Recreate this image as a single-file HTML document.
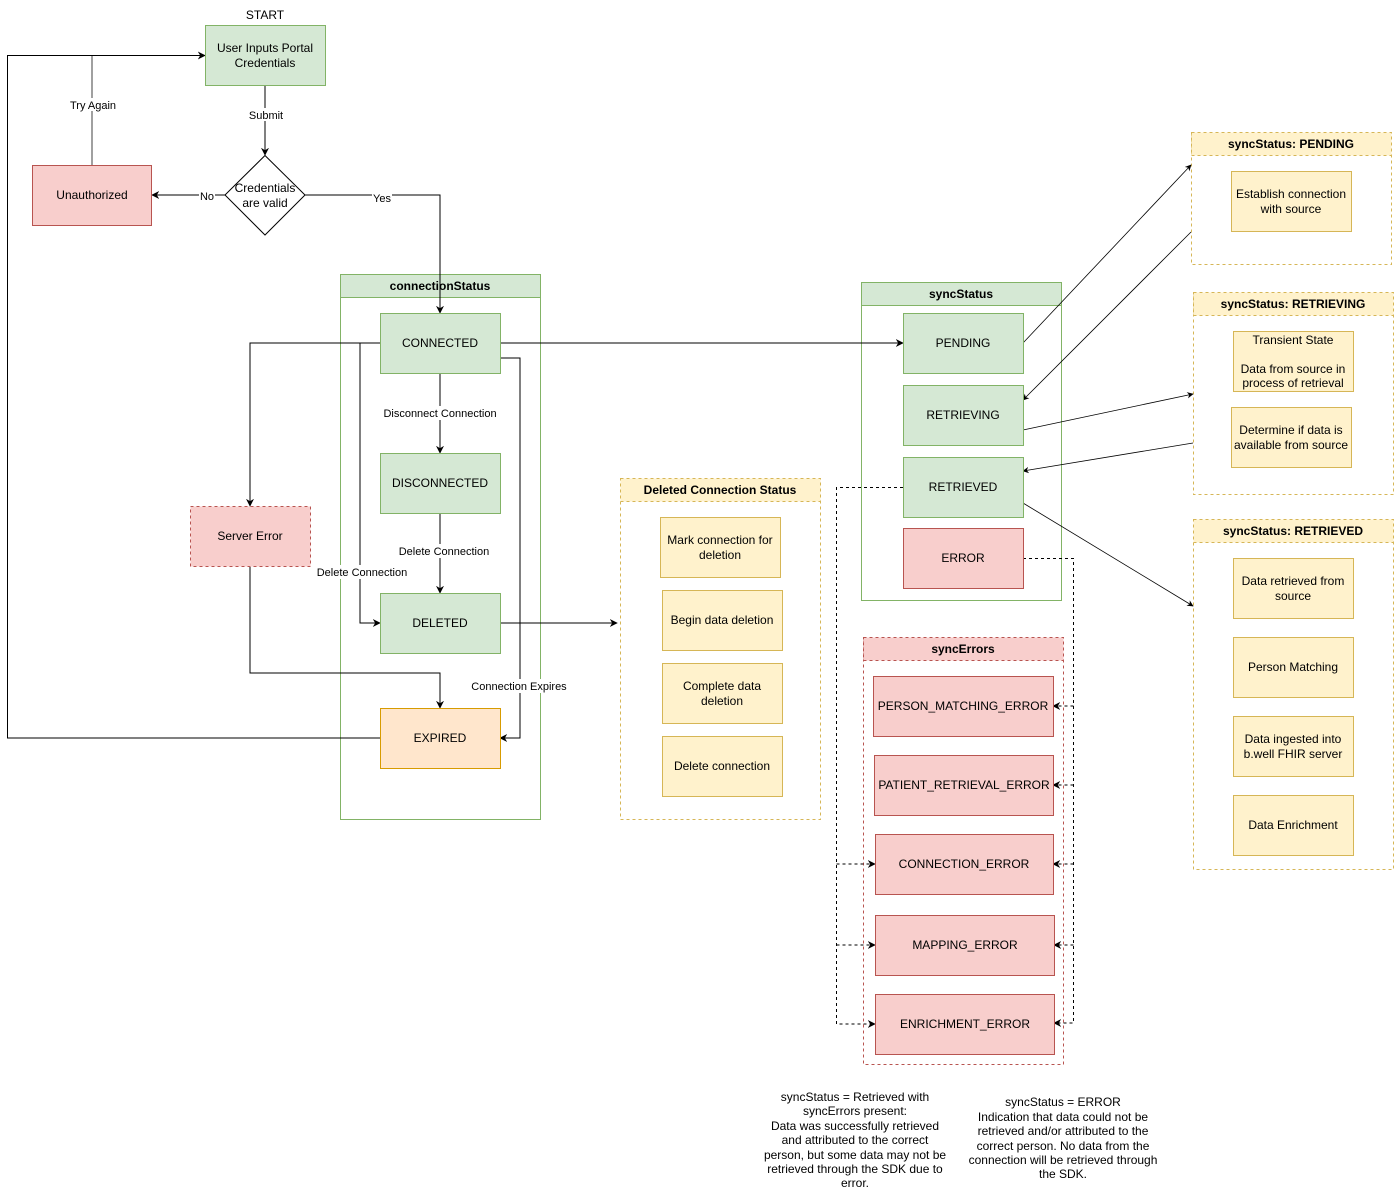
<!DOCTYPE html>
<html><head><meta charset="utf-8"><style>
body{margin:0;background:#fff}
svg{display:block;font-family:"Liberation Sans",Arial,sans-serif}
text{font-size:12px;fill:#000}
.l{font-size:11px}
.b{font-weight:bold}
</style></head><body>
<svg width="1394" height="1190" viewBox="0 0 1394 1190" xmlns="http://www.w3.org/2000/svg">
<defs>
<marker id="a" viewBox="0 0 10 10" refX="9" refY="5" markerWidth="8" markerHeight="8" orient="auto"><path d="M0,0 L10,5 L0,10 L3,5z" fill="#000"/></marker>
</defs>
<g text-anchor="middle">
<!-- containers -->
<rect x="340.5" y="274.5" width="200" height="545" fill="#fff" stroke="#82b366"/>
<rect x="340.5" y="274.5" width="200" height="23" fill="#d5e8d4" stroke="#82b366"/>
<text x="440" y="290" class="b">connectionStatus</text>
<rect x="620.5" y="478.5" width="200" height="341" fill="#fff" stroke="#d6b656" stroke-dasharray="3,3"/>
<rect x="620.5" y="478.5" width="200" height="23" fill="#fff2cc" stroke="#d6b656" stroke-dasharray="3,3"/>
<text x="720" y="494" class="b">Deleted Connection Status</text>
<rect x="861.5" y="282.5" width="200" height="318" fill="#fff" stroke="#82b366"/>
<rect x="861.5" y="282.5" width="200" height="23" fill="#d5e8d4" stroke="#82b366"/>
<text x="961" y="298" class="b">syncStatus</text>
<rect x="863.5" y="637.5" width="200" height="427" fill="#fff" stroke="#b85450" stroke-dasharray="3,3"/>
<rect x="863.5" y="637.5" width="200" height="23" fill="#f8cecc" stroke="#b85450" stroke-dasharray="3,3"/>
<text x="963" y="653" class="b">syncErrors</text>
<rect x="1191.5" y="132.5" width="200" height="132" fill="#fff" stroke="#d6b656" stroke-dasharray="3,3"/>
<rect x="1191.5" y="132.5" width="200" height="23" fill="#fff2cc" stroke="#d6b656" stroke-dasharray="3,3"/>
<text x="1291" y="148" class="b">syncStatus: PENDING</text>
<rect x="1193.5" y="292.5" width="200" height="202" fill="#fff" stroke="#d6b656" stroke-dasharray="3,3"/>
<rect x="1193.5" y="292.5" width="200" height="23" fill="#fff2cc" stroke="#d6b656" stroke-dasharray="3,3"/>
<text x="1293" y="308" class="b">syncStatus: RETRIEVING</text>
<rect x="1193.5" y="519.5" width="200" height="350" fill="#fff" stroke="#d6b656" stroke-dasharray="3,3"/>
<rect x="1193.5" y="519.5" width="200" height="23" fill="#fff2cc" stroke="#d6b656" stroke-dasharray="3,3"/>
<text x="1293" y="535" class="b">syncStatus: RETRIEVED</text>

<!-- edges -->
<g fill="none" stroke="#000" stroke-width="1">
<path d="M265,85 V155" marker-end="url(#a)"/>
<path d="M225,195 H152" marker-end="url(#a)"/>
<path d="M305,195 H440 V313" marker-end="url(#a)"/>
<path d="M92,165 V55" stroke="#808080" stroke-width="1.5"/>
<path d="M380,738 H7.5 V55.5 H205" marker-end="url(#a)"/>
<path d="M380,343 H250 V506" marker-end="url(#a)"/>
<path d="M360,343 V623 H380" marker-end="url(#a)"/>
<path d="M500,358 H520 V738 H500" marker-end="url(#a)"/>
<path d="M250,566 V673 H440 V708" marker-end="url(#a)"/>
<path d="M440,373 V453" marker-end="url(#a)"/>
<path d="M440,513 V593" marker-end="url(#a)"/>
<path d="M500,343 H903" marker-end="url(#a)"/>
<path d="M500,623 H617" marker-end="url(#a)"/>
<path d="M1023,343 L1191,165" marker-end="url(#a)" stroke-width="0.8"/>
<path d="M1191,232 L1023,400" marker-end="url(#a)" stroke-width="0.8"/>
<path d="M1023,430 L1193,394" marker-end="url(#a)" stroke-width="0.8"/>
<path d="M1193,443 L1023,471" marker-end="url(#a)" stroke-width="0.8"/>
<path d="M1023,503 L1193,606" marker-end="url(#a)" stroke-width="0.8"/>
<g stroke-dasharray="3,3">
<path d="M903,487.5 H836.5 V1024 H875" marker-end="url(#a)"/>
<path d="M836.5,864 H875" marker-end="url(#a)"/>
<path d="M836.5,945 H875" marker-end="url(#a)"/>
<path d="M1023,558.5 H1073.5 V1023 H1054" marker-end="url(#a)"/>
<path d="M1073.5,706 H1053" marker-end="url(#a)"/>
<path d="M1073.5,785 H1053" marker-end="url(#a)"/>
<path d="M1073.5,864 H1053" marker-end="url(#a)"/>
<path d="M1073.5,945 H1054" marker-end="url(#a)"/>
</g>
</g>

<!-- edge labels -->
<g class="l">
<rect x="247" y="108" width="38" height="13" fill="#fff"/><text x="266" y="119" class="l">Submit</text>
<rect x="68" y="98" width="50" height="13" fill="#fff"/><text x="93" y="109" class="l">Try Again</text>
<rect x="199" y="189" width="16" height="13" fill="#fff"/><text x="207" y="200" class="l">No</text>
<rect x="372" y="191" width="20" height="12" fill="#fff"/><text x="382" y="202" class="l">Yes</text>
<rect x="383" y="406" width="115" height="14" fill="#fff"/><text x="440" y="417" class="l">Disconnect Connection</text>
<rect x="398" y="544" width="93" height="14" fill="#fff"/><text x="444" y="555" class="l">Delete Connection</text>
<rect x="316" y="565" width="93" height="14" fill="#fff"/><text x="362" y="576" class="l">Delete Connection</text>
<rect x="471" y="679" width="97" height="14" fill="#fff"/><text x="519" y="690" class="l">Connection Expires</text>
</g>

<!-- nodes -->
<text x="265" y="19">START</text>
<rect x="205.5" y="25.5" width="120" height="60" fill="#d5e8d4" stroke="#82b366"/>
<text x="265" y="52">User Inputs Portal</text><text x="265" y="67">Credentials</text>
<path d="M265,155.5 L305,195 L265,235 L225,195z" fill="#fff" stroke="#000"/>
<text x="265" y="192">Credentials</text><text x="265" y="207">are valid</text>
<rect x="32.5" y="165.5" width="119" height="60" fill="#f8cecc" stroke="#b85450"/>
<text x="92" y="199">Unauthorized</text>
<rect x="190.5" y="506.5" width="120" height="60" fill="#f8cecc" stroke="#b85450" stroke-dasharray="3,3"/>
<text x="250" y="540">Server Error</text>

<g fill="#d5e8d4" stroke="#82b366">
<rect x="380.5" y="313.5" width="120" height="60"/>
<rect x="380.5" y="453.5" width="120" height="60"/>
<rect x="380.5" y="593.5" width="120" height="60"/>
<rect x="903.5" y="313.5" width="120" height="60"/>
<rect x="903.5" y="385.5" width="120" height="60"/>
<rect x="903.5" y="457.5" width="120" height="60"/>
</g>
<text x="440" y="347">CONNECTED</text>
<text x="440" y="487">DISCONNECTED</text>
<text x="440" y="627">DELETED</text>
<text x="963" y="347">PENDING</text>
<text x="963" y="419">RETRIEVING</text>
<text x="963" y="491">RETRIEVED</text>
<rect x="380.5" y="708.5" width="120" height="60" fill="#ffe6cc" stroke="#d79b00"/>
<text x="440" y="742">EXPIRED</text>

<g fill="#f8cecc" stroke="#b85450">
<rect x="903.5" y="528.5" width="120" height="60"/>
<rect x="873.5" y="676.5" width="180" height="60"/>
<rect x="874.5" y="755.5" width="179" height="60"/>
<rect x="875.5" y="834.5" width="178" height="60"/>
<rect x="875.5" y="915.5" width="179" height="60"/>
<rect x="875.5" y="994.5" width="179" height="60"/>
</g>
<text x="963" y="562">ERROR</text>
<text x="963" y="710">PERSON_MATCHING_ERROR</text>
<text x="964" y="789">PATIENT_RETRIEVAL_ERROR</text>
<text x="964" y="868">CONNECTION_ERROR</text>
<text x="965" y="949">MAPPING_ERROR</text>
<text x="965" y="1028">ENRICHMENT_ERROR</text>

<g fill="#fff2cc" stroke="#d6b656">
<rect x="660.5" y="517.5" width="120" height="60"/>
<rect x="662.5" y="590.5" width="120" height="60"/>
<rect x="662.5" y="663.5" width="120" height="60"/>
<rect x="662.5" y="736.5" width="120" height="60"/>
<rect x="1231.5" y="171.5" width="120" height="60"/>
<rect x="1233.5" y="331.5" width="120" height="60"/>
<rect x="1231.5" y="407.5" width="120" height="60"/>
<rect x="1233.5" y="558.5" width="120" height="60"/>
<rect x="1233.5" y="637.5" width="120" height="60"/>
<rect x="1233.5" y="716.5" width="120" height="60"/>
<rect x="1233.5" y="795.5" width="120" height="60"/>
</g>
<text x="720" y="544">Mark connection for</text><text x="720" y="559">deletion</text>
<text x="722" y="624">Begin data deletion</text>
<text x="722" y="690">Complete data</text><text x="722" y="705">deletion</text>
<text x="722" y="770">Delete connection</text>
<text x="1291" y="198">Establish connection</text><text x="1291" y="213">with source</text>
<text x="1293" y="344">Transient State</text>
<text x="1293" y="373">Data from source in</text><text x="1293" y="387">process of retrieval</text>
<text x="1291" y="434">Determine if data is</text><text x="1291" y="449">available from source</text>
<text x="1293" y="585">Data retrieved from</text><text x="1293" y="600">source</text>
<text x="1293" y="671">Person Matching</text>
<text x="1293" y="743">Data ingested into</text><text x="1293" y="758">b.well FHIR server</text>
<text x="1293" y="829">Data Enrichment</text>

<g>
<text x="855" y="1101">syncStatus = Retrieved with</text>
<text x="855" y="1115">syncErrors present:</text>
<text x="855" y="1130">Data was successfully retrieved</text>
<text x="855" y="1144">and attributed to the correct</text>
<text x="855" y="1159">person, but some data may not be</text>
<text x="855" y="1173">retrieved through the SDK due to</text>
<text x="855" y="1187">error.</text>
<text x="1063" y="1106">syncStatus = ERROR</text>
<text x="1063" y="1121">Indication that data could not be</text>
<text x="1063" y="1135">retrieved and/or attributed to the</text>
<text x="1063" y="1150">correct person. No data from the</text>
<text x="1063" y="1164">connection will be retrieved through</text>
<text x="1063" y="1178">the SDK.</text>
</g>
</g>
</svg>
</body></html>
